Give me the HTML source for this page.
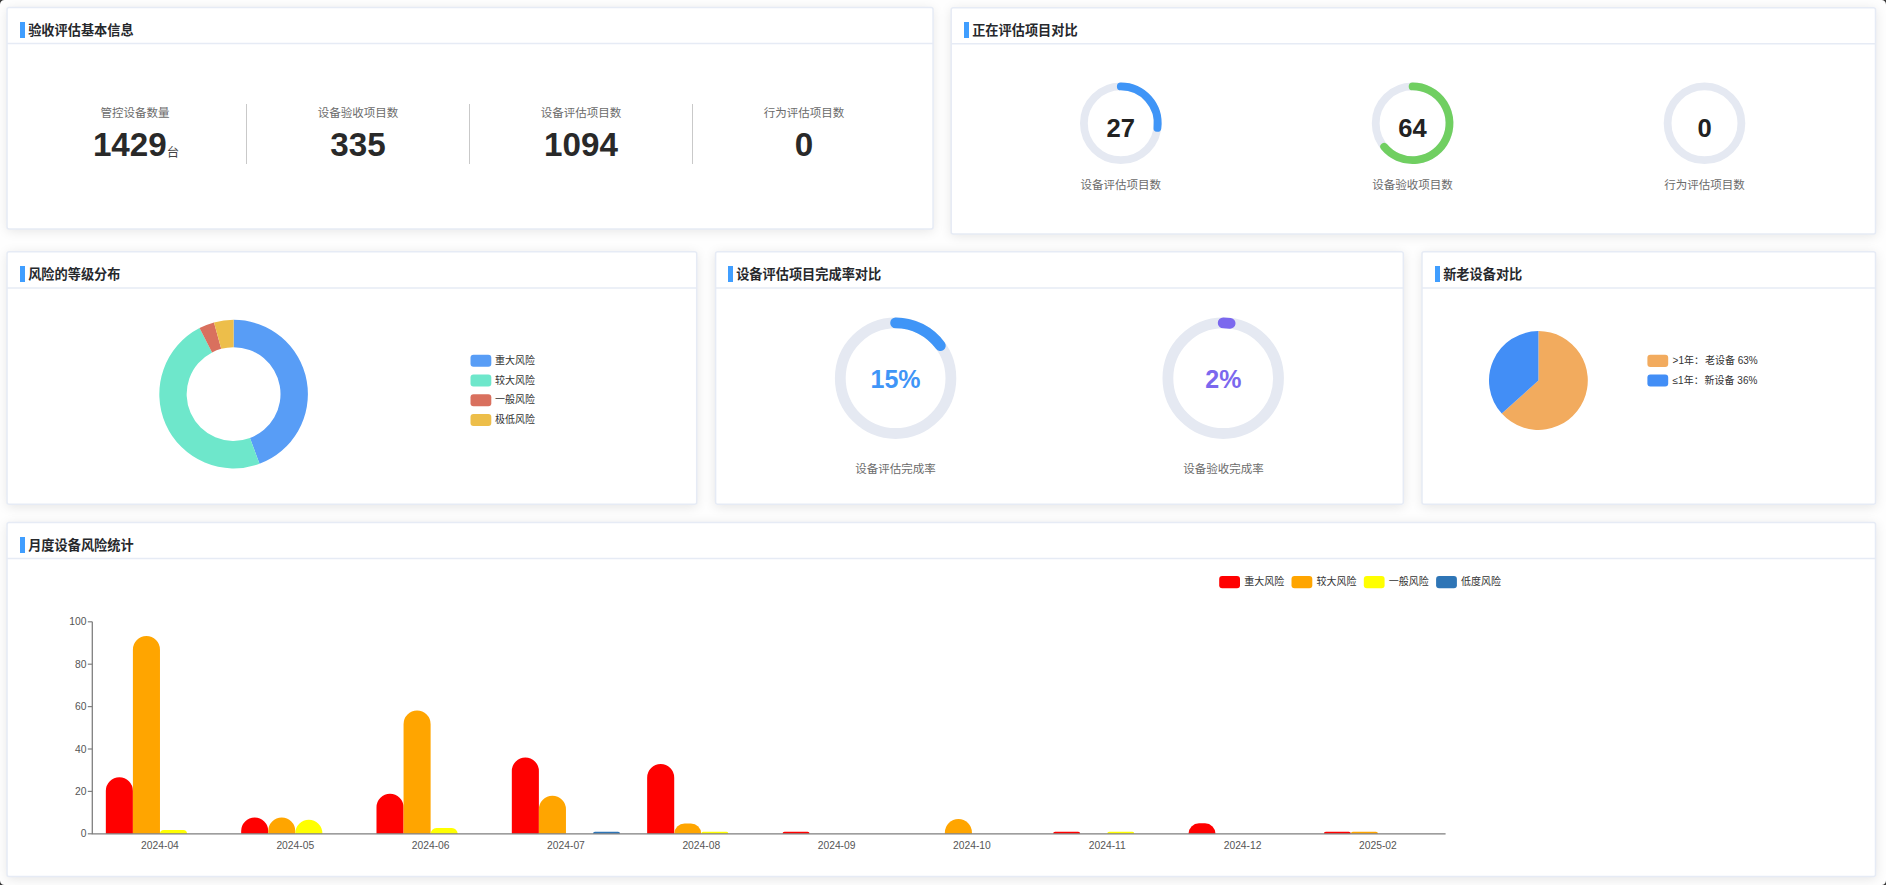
<!DOCTYPE html>
<html lang="zh-CN"><head><meta charset="utf-8"><title>验收评估</title>
<style>

html,body{margin:0;padding:0;}
body{width:1886px;height:885px;overflow:hidden;background:#fefefe;font-family:"Liberation Sans", "Noto Sans CJK SC", sans-serif;color:#303133;position:relative;}
.card{position:absolute;box-sizing:border-box;background:#fff;border-radius:2px;box-shadow:0 2px 12px 0 rgba(0,0,0,.1);}
.hd{position:absolute;left:1px;right:1px;top:1px;height:35px;}
.hd i{position:absolute;left:12.3px;top:13.8px;width:5px;height:16px;background:#409eff;}
.hd b{position:absolute;left:20.2px;top:11.5px;height:22px;line-height:22px;font-size:13.2px;font-weight:700;color:#26282c;white-space:nowrap;}
.t{position:absolute;white-space:nowrap;text-align:center;}
.lab{font-size:11.5px;color:#6b6b6b;height:16px;line-height:16px;width:120px;margin-left:-60px;}
.num{font-size:33.2px;font-weight:700;color:#292929;height:40px;line-height:40px;width:200px;margin-left:-100px;}
.num small{font-size:12.5px;font-weight:400;color:#444;position:relative;top:1.2px;margin-left:0;}
.vline{position:absolute;width:1px;background:#c9c9c9;top:103.5px;height:60.5px;}
.cnum{font-weight:700;height:30px;line-height:30px;width:120px;margin-left:-60px;}
.lg{position:absolute;font-size:10px;color:#333;height:14px;line-height:14px;white-space:nowrap;}
svg{position:absolute;left:0;top:0;overflow:visible;}
svg text{font-family:"Liberation Sans", "Noto Sans CJK SC", sans-serif;}

</style></head><body>
<div class="card" id="c1" style="left:7px;top:7px;width:926px;height:222px"><div class="hd"><i></i><b>验收评估基本信息</b></div></div>
<div class="card" id="c2" style="left:951px;top:7px;width:925px;height:227px"><div class="hd"><i></i><b>正在评估项目对比</b></div></div>
<div class="card" id="c3" style="left:7px;top:251px;width:690px;height:254px"><div class="hd"><i></i><b>风险的等级分布</b></div></div>
<div class="card" id="c4" style="left:715px;top:251px;width:689px;height:254px"><div class="hd"><i></i><b>设备评估项目完成率对比</b></div></div>
<div class="card" id="c5" style="left:1422px;top:251px;width:454px;height:254px"><div class="hd"><i></i><b>新老设备对比</b></div></div>
<div class="card" id="c6" style="left:7px;top:522px;width:1869px;height:355px"><div class="hd"><i></i><b>月度设备风险统计</b></div></div>
<div class="t lab" style="left:135px;top:105px">管控设备数量</div>
<div class="t num" style="left:136.1px;top:125px">1429<small>台</small></div>
<div class="t lab" style="left:358px;top:105px">设备验收项目数</div>
<div class="t num" style="left:358px;top:125px">335</div>
<div class="t lab" style="left:581px;top:105px">设备评估项目数</div>
<div class="t num" style="left:581px;top:125px">1094</div>
<div class="t lab" style="left:804px;top:105px">行为评估项目数</div>
<div class="t num" style="left:804px;top:125px">0</div>
<div class="vline" style="left:246px"></div>
<div class="vline" style="left:469px"></div>
<div class="vline" style="left:692px"></div>
<svg width="1886" height="885" viewBox="0 0 1886 885">
<g fill="none" stroke="#e6ebf5" stroke-width="1.5">
<rect x="7.05" y="7.6" width="926.00" height="221.40" rx="2"/><path d="M7.05 43.6H933.05"/>
<rect x="951.2" y="7.7" width="924.30" height="226.30" rx="2"/><path d="M951.2 43.7H1875.5"/>
<rect x="7.05" y="251.87" width="689.65" height="252.43" rx="2"/><path d="M7.05 288.05H696.7"/>
<rect x="715.6" y="251.87" width="687.70" height="252.43" rx="2"/><path d="M715.6 288.05H1403.3"/>
<rect x="1422.0" y="251.87" width="453.50" height="252.43" rx="2"/><path d="M1422.0 288.05H1875.5"/>
<rect x="7.05" y="522.4" width="1868.45" height="354.10" rx="2"/><path d="M7.05 558.4H1875.5"/>
</g>
<circle cx="1120.8" cy="123.3" r="36.9" fill="none" stroke="#e5e9f2" stroke-width="7.8"/>
<path d="M1120.80 86.40A36.90 36.90 0 0 1 1157.41 127.92" fill="none" stroke="#3f95f7" stroke-width="7.8" stroke-linecap="round"/>
<circle cx="1412.6" cy="123.3" r="36.9" fill="none" stroke="#e5e9f2" stroke-width="7.8"/>
<path d="M1412.60 86.40A36.90 36.90 0 1 1 1384.17 146.82" fill="none" stroke="#70cf61" stroke-width="7.8" stroke-linecap="round"/>
<circle cx="1704.5" cy="123.3" r="36.9" fill="none" stroke="#e5e9f2" stroke-width="7.8"/>
<circle cx="895.6" cy="378.2" r="55.3" fill="none" stroke="#e5e9f2" stroke-width="10.8"/>
<path d="M895.60 322.90A55.30 55.30 0 0 1 940.34 345.70" fill="none" stroke="#3f95f7" stroke-width="10.8" stroke-linecap="round"/>
<circle cx="1223.2" cy="378.2" r="55.3" fill="none" stroke="#e5e9f2" stroke-width="10.8"/>
<path d="M1223.20 322.90A55.30 55.30 0 0 1 1230.13 323.34" fill="none" stroke="#7b68ee" stroke-width="10.8" stroke-linecap="round"/>
<path d="M233.60 319.80A74.30 74.30 0 0 1 259.50 463.74L249.95 438.06A46.90 46.90 0 0 0 233.60 347.20Z" fill="#589df6"/>
<path d="M259.50 463.74A74.30 74.30 0 0 1 199.52 328.08L212.09 352.42A46.90 46.90 0 0 0 249.95 438.06Z" fill="#6ee7cb"/>
<path d="M199.52 328.08A74.30 74.30 0 0 1 213.99 322.43L221.22 348.86A46.90 46.90 0 0 0 212.09 352.42Z" fill="#d9705e"/>
<path d="M213.99 322.43A74.30 74.30 0 0 1 233.60 319.80L233.60 347.20A46.90 46.90 0 0 0 221.22 348.86Z" fill="#edbe4a"/>
<path d="M1538.40 380.50L1538.40 331.10A49.40 49.40 0 1 1 1501.75 413.62Z" fill="#f2ab5e"/>
<path d="M1538.40 380.50L1501.75 413.62A49.40 49.40 0 0 1 1538.40 331.10Z" fill="#428ef6"/>
<path d="M105.83 833.80V790.73A13.53 13.53 0 0 1 119.37 777.20H119.37A13.53 13.53 0 0 1 132.90 790.73V833.80Z" fill="#ff0000"/>
<path d="M132.90 833.80V649.63A13.53 13.53 0 0 1 146.43 636.10H146.43A13.53 13.53 0 0 1 159.97 649.63V833.80Z" fill="#ffa500"/>
<path d="M159.97 833.80V833.80A3.80 3.80 0 0 1 163.76 830.00H183.23A3.80 3.80 0 0 1 187.03 833.80V833.80Z" fill="#ffff00"/>
<path d="M241.16 833.80V831.03A13.53 13.53 0 0 1 254.70 817.50H254.70A13.53 13.53 0 0 1 268.23 831.03V833.80Z" fill="#ff0000"/>
<path d="M268.23 833.80V831.03A13.53 13.53 0 0 1 281.76 817.50H281.76A13.53 13.53 0 0 1 295.29 831.03V833.80Z" fill="#ffa500"/>
<path d="M295.29 833.80V833.33A13.53 13.53 0 0 1 308.83 819.80H308.83A13.53 13.53 0 0 1 322.36 833.33V833.80Z" fill="#ffff00"/>
<path d="M376.49 833.80V807.33A13.53 13.53 0 0 1 390.03 793.80H390.03A13.53 13.53 0 0 1 403.56 807.33V833.80Z" fill="#ff0000"/>
<path d="M403.56 833.80V724.13A13.53 13.53 0 0 1 417.09 710.60H417.09A13.53 13.53 0 0 1 430.62 724.13V833.80Z" fill="#ffa500"/>
<path d="M430.62 833.80V833.80A5.80 5.80 0 0 1 436.42 828.00H451.89A5.80 5.80 0 0 1 457.69 833.80V833.80Z" fill="#ffff00"/>
<path d="M511.82 833.80V771.03A13.53 13.53 0 0 1 525.36 757.50H525.36A13.53 13.53 0 0 1 538.89 771.03V833.80Z" fill="#ff0000"/>
<path d="M538.89 833.80V809.33A13.53 13.53 0 0 1 552.42 795.80H552.42A13.53 13.53 0 0 1 565.96 809.33V833.80Z" fill="#ffa500"/>
<path d="M593.02 833.80V833.80A2.00 2.00 0 0 1 595.02 831.80H618.09A2.00 2.00 0 0 1 620.09 833.80V833.80Z" fill="#2e75b6"/>
<path d="M647.15 833.80V777.63A13.53 13.53 0 0 1 660.69 764.10H660.69A13.53 13.53 0 0 1 674.22 777.63V833.80Z" fill="#ff0000"/>
<path d="M674.22 833.80V833.80A10.40 10.40 0 0 1 684.62 823.40H690.88A10.40 10.40 0 0 1 701.28 833.80V833.80Z" fill="#ffa500"/>
<path d="M701.28 833.80V833.80A2.00 2.00 0 0 1 703.28 831.80H726.35A2.00 2.00 0 0 1 728.35 833.80V833.80Z" fill="#ffff00"/>
<path d="M782.48 833.80V833.80A2.00 2.00 0 0 1 784.48 831.80H807.55A2.00 2.00 0 0 1 809.55 833.80V833.80Z" fill="#ff0000"/>
<path d="M944.88 833.80V832.53A13.53 13.53 0 0 1 958.41 819.00H958.41A13.53 13.53 0 0 1 971.94 832.53V833.80Z" fill="#ffa500"/>
<path d="M1053.14 833.80V833.80A2.00 2.00 0 0 1 1055.14 831.80H1078.21A2.00 2.00 0 0 1 1080.21 833.80V833.80Z" fill="#ff0000"/>
<path d="M1107.27 833.80V833.80A2.00 2.00 0 0 1 1109.27 831.80H1132.34A2.00 2.00 0 0 1 1134.34 833.80V833.80Z" fill="#ffff00"/>
<path d="M1188.47 833.80V833.80A10.50 10.50 0 0 1 1198.97 823.30H1205.04A10.50 10.50 0 0 1 1215.54 833.80V833.80Z" fill="#ff0000"/>
<path d="M1323.80 833.80V833.80A2.00 2.00 0 0 1 1325.80 831.80H1348.87A2.00 2.00 0 0 1 1350.87 833.80V833.80Z" fill="#ff0000"/>
<path d="M1350.87 833.80V833.80A2.00 2.00 0 0 1 1352.87 831.80H1375.93A2.00 2.00 0 0 1 1377.93 833.80V833.80Z" fill="#ffa500"/>
<path d="M92.3 621.8V834.3M91.8 833.8H1445.6" stroke="#7f7f7f" stroke-width="1.3" fill="none"/>
<path d="M87.8 833.80H92.3" stroke="#7f7f7f" stroke-width="1.2"/>
<text x="86.5" y="837.40" font-size="10.3" fill="#555" text-anchor="end">0</text>
<path d="M87.8 791.40H92.3" stroke="#7f7f7f" stroke-width="1.2"/>
<text x="86.5" y="795.00" font-size="10.3" fill="#555" text-anchor="end">20</text>
<path d="M87.8 749.00H92.3" stroke="#7f7f7f" stroke-width="1.2"/>
<text x="86.5" y="752.60" font-size="10.3" fill="#555" text-anchor="end">40</text>
<path d="M87.8 706.60H92.3" stroke="#7f7f7f" stroke-width="1.2"/>
<text x="86.5" y="710.20" font-size="10.3" fill="#555" text-anchor="end">60</text>
<path d="M87.8 664.20H92.3" stroke="#7f7f7f" stroke-width="1.2"/>
<text x="86.5" y="667.80" font-size="10.3" fill="#555" text-anchor="end">80</text>
<path d="M87.8 621.80H92.3" stroke="#7f7f7f" stroke-width="1.2"/>
<text x="86.5" y="625.40" font-size="10.3" fill="#555" text-anchor="end">100</text>
<text x="159.96" y="849.2" font-size="10.3" fill="#555" text-anchor="middle">2024-04</text>
<text x="295.29" y="849.2" font-size="10.3" fill="#555" text-anchor="middle">2024-05</text>
<text x="430.62" y="849.2" font-size="10.3" fill="#555" text-anchor="middle">2024-06</text>
<text x="565.95" y="849.2" font-size="10.3" fill="#555" text-anchor="middle">2024-07</text>
<text x="701.28" y="849.2" font-size="10.3" fill="#555" text-anchor="middle">2024-08</text>
<text x="836.61" y="849.2" font-size="10.3" fill="#555" text-anchor="middle">2024-09</text>
<text x="971.94" y="849.2" font-size="10.3" fill="#555" text-anchor="middle">2024-10</text>
<text x="1107.27" y="849.2" font-size="10.3" fill="#555" text-anchor="middle">2024-11</text>
<text x="1242.60" y="849.2" font-size="10.3" fill="#555" text-anchor="middle">2024-12</text>
<text x="1377.93" y="849.2" font-size="10.3" fill="#555" text-anchor="middle">2025-02</text>
<rect x="470.5" y="354.75" width="20.8" height="12.1" rx="3" fill="#589df6"/>
<rect x="470.5" y="374.50" width="20.8" height="12.1" rx="3" fill="#6ee7cb"/>
<rect x="470.5" y="394.25" width="20.8" height="12.1" rx="3" fill="#d9705e"/>
<rect x="470.5" y="414.00" width="20.8" height="12.1" rx="3" fill="#edbe4a"/>
<rect x="1647.4" y="354.81" width="20.8" height="12.1" rx="3" fill="#f2ab5e"/>
<rect x="1647.4" y="374.41" width="20.8" height="12.1" rx="3" fill="#428ef6"/>
<rect x="1219.20" y="576.05" width="20.8" height="12.1" rx="3" fill="#ff0000"/>
<rect x="1291.50" y="576.05" width="20.8" height="12.1" rx="3" fill="#ffa500"/>
<rect x="1363.80" y="576.05" width="20.8" height="12.1" rx="3" fill="#ffff00"/>
<rect x="1436.10" y="576.05" width="20.8" height="12.1" rx="3" fill="#2e75b6"/>
<path d="M0 0H4.5A4.5 4.5 0 0 0 0 4.5Z" fill="#3a3a3a"/>
<path d="M1886 0H1881.5A4.5 4.5 0 0 1 1886 4.5Z" fill="#3a3a3a"/>
<path d="M0 885H4.5A4.5 4.5 0 0 1 0 880.5Z" fill="#3a3a3a"/>
<path d="M1886 885H1881.5A4.5 4.5 0 0 0 1886 880.5Z" fill="#3a3a3a"/>
</svg>
<div class="t cnum" style="left:1120.8px;top:113.3px;font-size:25.6px;color:#222">27</div>
<div class="t lab" style="left:1120.8px;top:177px">设备评估项目数</div>
<div class="t cnum" style="left:1412.6px;top:113.3px;font-size:25.6px;color:#222">64</div>
<div class="t lab" style="left:1412.6px;top:177px">设备验收项目数</div>
<div class="t cnum" style="left:1704.5px;top:113.3px;font-size:25.6px;color:#222">0</div>
<div class="t lab" style="left:1704.5px;top:177px">行为评估项目数</div>
<div class="t cnum" style="left:895.6px;top:364px;font-size:25px;color:#3f95f7">15%</div>
<div class="t lab" style="left:895.6px;top:460.5px">设备评估完成率</div>
<div class="t cnum" style="left:1223.4px;top:364px;font-size:25px;color:#7b68ee">2%</div>
<div class="t lab" style="left:1223.4px;top:460.5px">设备验收完成率</div>
<div class="lg" style="left:495px;top:353.90px">重大风险</div>
<div class="lg" style="left:495px;top:373.65px">较大风险</div>
<div class="lg" style="left:495px;top:393.40px">一般风险</div>
<div class="lg" style="left:495px;top:413.15px">极低风险</div>
<div class="lg" style="left:1672.6px;top:354.06px">&gt;1年<span style="margin-right:-1.9px">：</span> 老设备 63%</div>
<div class="lg" style="left:1672.6px;top:373.66px">≤1年<span style="margin-right:-1.9px">：</span> 新设备 36%</div>
<div class="lg" style="left:1244.20px;top:574.60px">重大风险</div>
<div class="lg" style="left:1316.50px;top:574.60px">较大风险</div>
<div class="lg" style="left:1388.80px;top:574.60px">一般风险</div>
<div class="lg" style="left:1461.10px;top:574.60px">低度风险</div>
</body></html>
